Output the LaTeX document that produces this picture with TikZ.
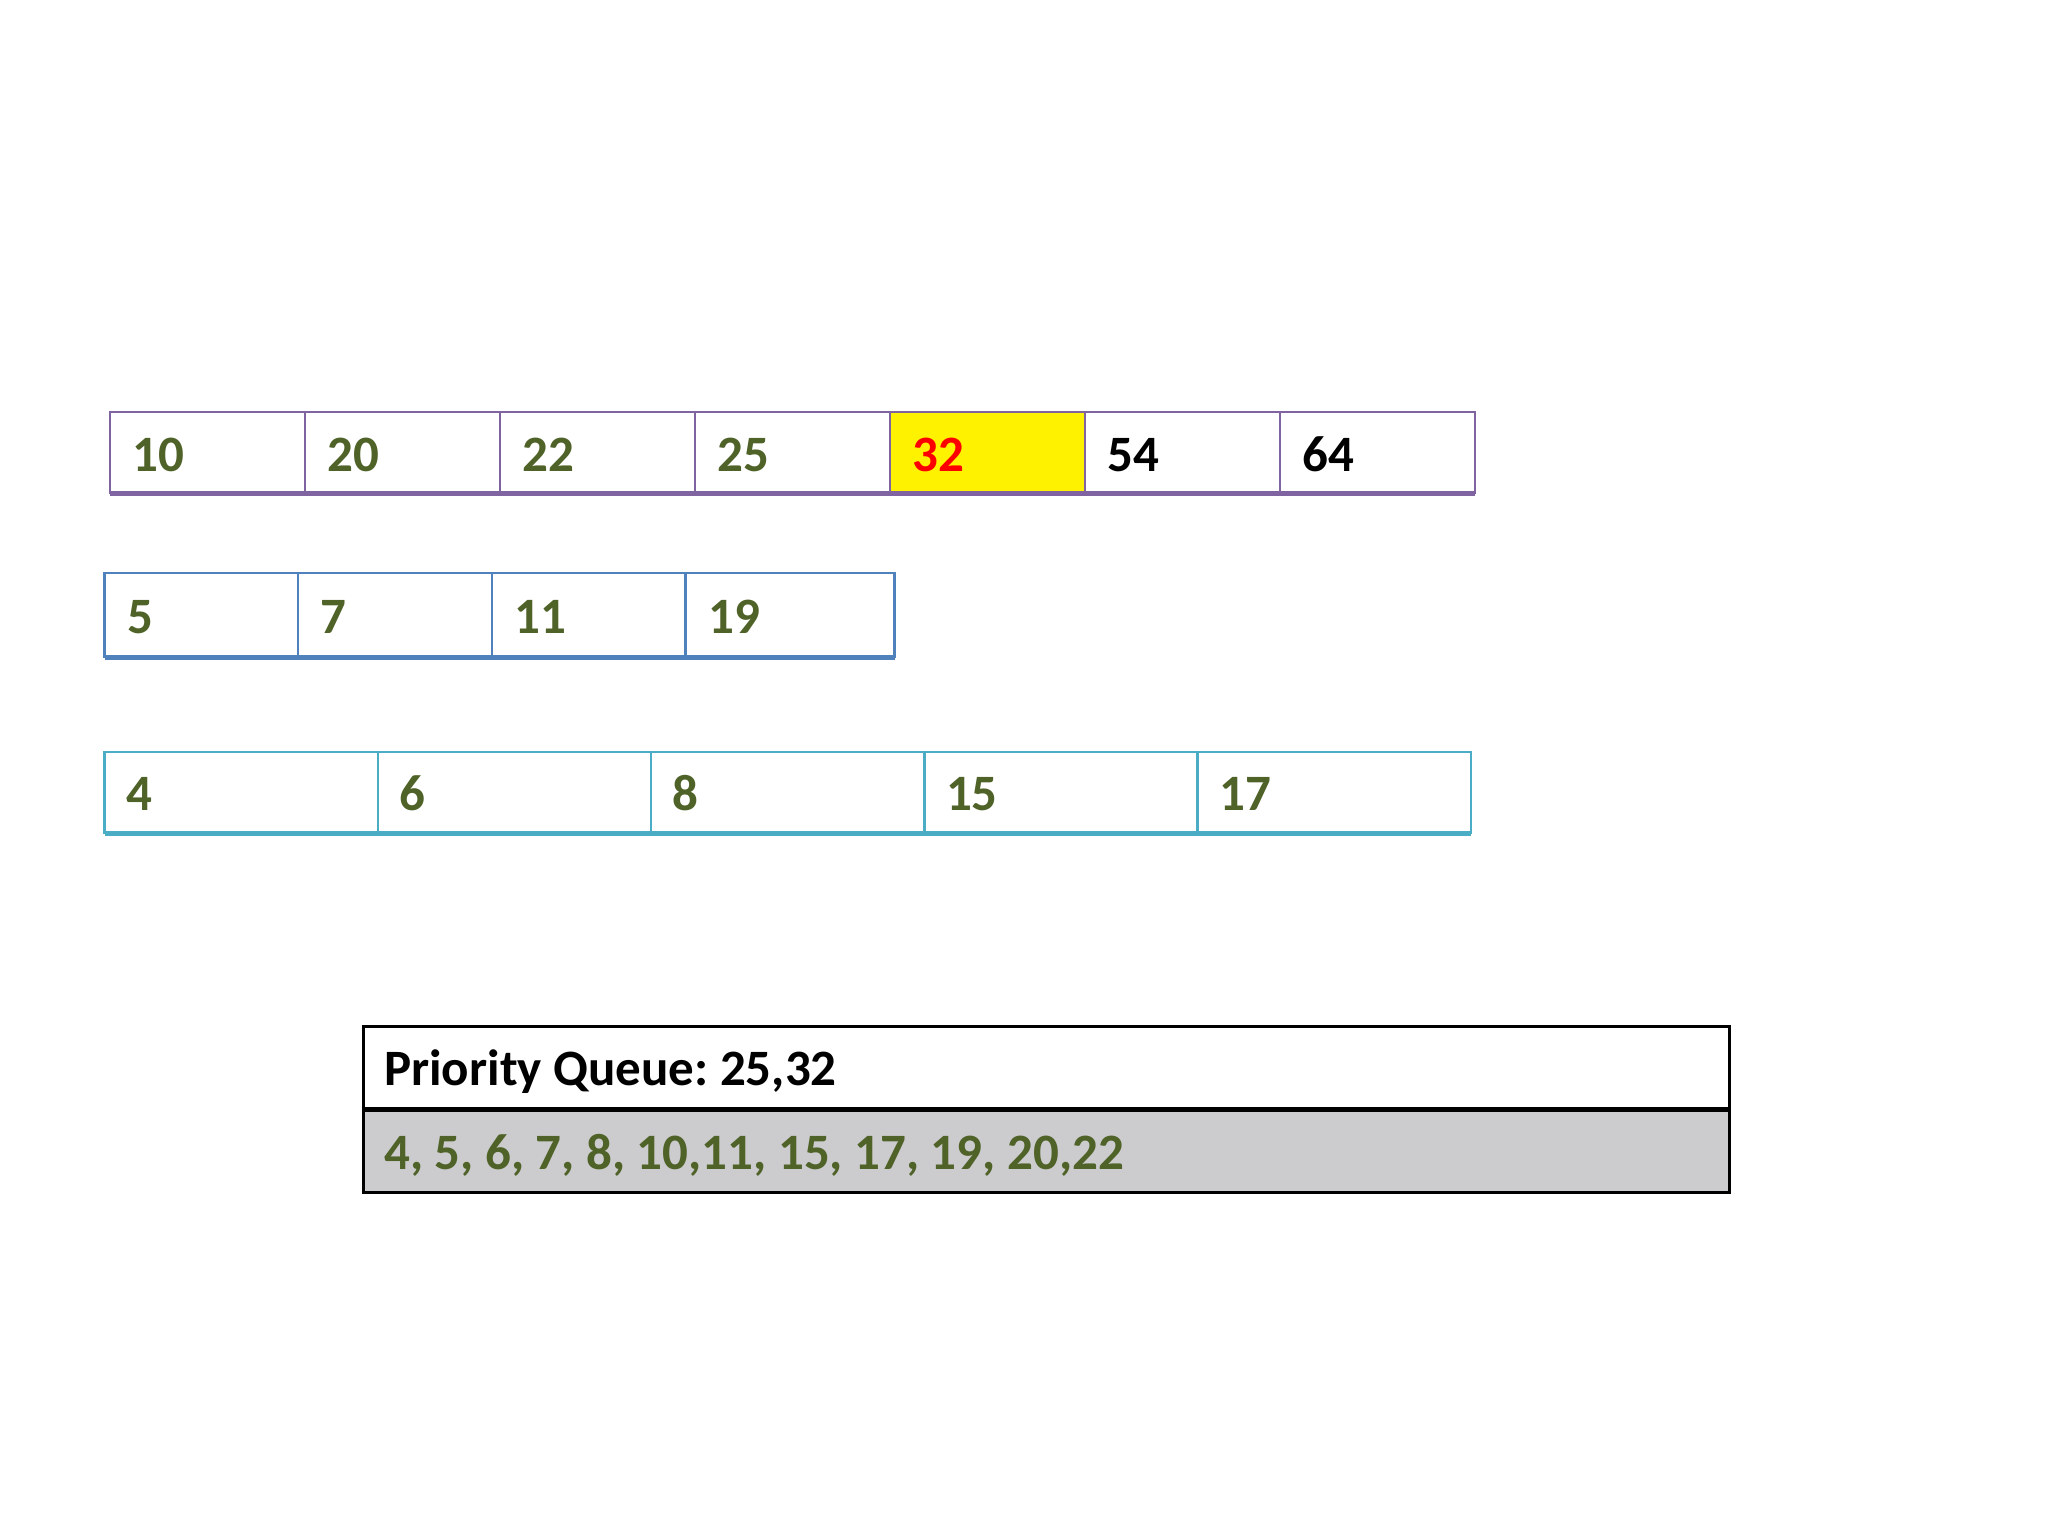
\documentclass[tikz,border=0pt]{standalone}
\usepackage{fontspec}
\setmainfont{Carlito}
\frenchspacing
\definecolor{purp}{HTML}{8064A2}
\definecolor{blu}{HTML}{4F81BD}
\definecolor{aqua}{HTML}{4BACC6}
\definecolor{olive}{HTML}{4F6228}
\definecolor{gry}{HTML}{CCCBCD}
\begin{document}
\begin{tikzpicture}[x=1pt,y=-1pt,
  cellbox/.style={draw=#1, line width=2.5pt, fill=white, anchor=north west, inner sep=0pt, outer sep=0pt},
  num/.style={anchor=base west, inner sep=0pt, font=\fontsize{51}{60}\selectfont\bfseries, text=olive}]
\useasboundingbox (0,0) rectangle (2048,1536);
\fill[white] (0,0) rectangle (2048,1536);
% row 1
\foreach \i/\t in {1/10,2/20,3/22,4/25}{
  \node[cellbox=purp, minimum width=195pt, minimum height=81pt] (a\i) at ({110+(\i-1)*195},412) {};
  \node[num] (ta\i) at ({132+(\i-1)*195},471) {\t};
}
\node[cellbox=purp, fill=yellow, minimum width=195pt, minimum height=81pt] (a5) at (890,412) {};
\node[num, text=red] (ta5) at (912,471) {32};
\node[cellbox=purp, minimum width=195pt, minimum height=81pt] (a6) at (1085,412) {};
\node[num, text=black] (ta6) at (1107,471) {54};
\node[cellbox=purp, minimum width=195pt, minimum height=81pt] (a7) at (1280,412) {};
\node[num, text=black] (ta7) at (1302,471) {64};
\draw[purp, line width=5pt] (a1.south west) -- (a7.south east);
% row 2
\foreach \i/\t in {1/5,2/7,3/11}{
  \node[cellbox=blu, minimum width=193.7pt, minimum height=84pt] (b\i) at ({104.5+(\i-1)*193.7},573) {};
  \node[num] (tb\i) at ({127+(\i-1)*193.7},633) {\t};
}
\node[cellbox=blu, minimum width=209pt, minimum height=84pt] (b4) at (685.6,573) {};
\node[num] (tb4) at (708,633) {19};
\draw[blu, line width=5pt] (b1.south west) -- (b4.south east);
% row 3
\foreach \i/\t in {1/4,2/6,3/8,4/15,5/17}{
  \node[cellbox=aqua, minimum width=273.3pt, minimum height=81pt] (c\i) at ({104.5+(\i-1)*273.3},752) {};
  \node[num] (tc\i) at ({126+(\i-1)*273.3},810) {\t};
}
\draw[aqua, line width=5pt] (c1.south west) -- (c5.south east);
% priority queue
\node[draw=black, line width=2.5pt, fill=white, anchor=north west, inner sep=0pt, minimum width=1366pt, minimum height=84pt] (pq1) at (362,1025) {};
\node[draw=black, line width=2.5pt, fill=gry, anchor=north west, inner sep=0pt, minimum width=1366pt, minimum height=82pt] (pq2) at (362,1109) {};
\draw[black, line width=5pt] (pq2.north west) -- (pq2.north east);
\node[num, text=black] (tq1) at (384,1085) {Priority Queue: 25,32};
\node[num] (tq2) at (384,1169) {4, 5, 6, 7, 8, 10,11, 15, 17, 19, 20,22};
\end{tikzpicture}
\end{document}
